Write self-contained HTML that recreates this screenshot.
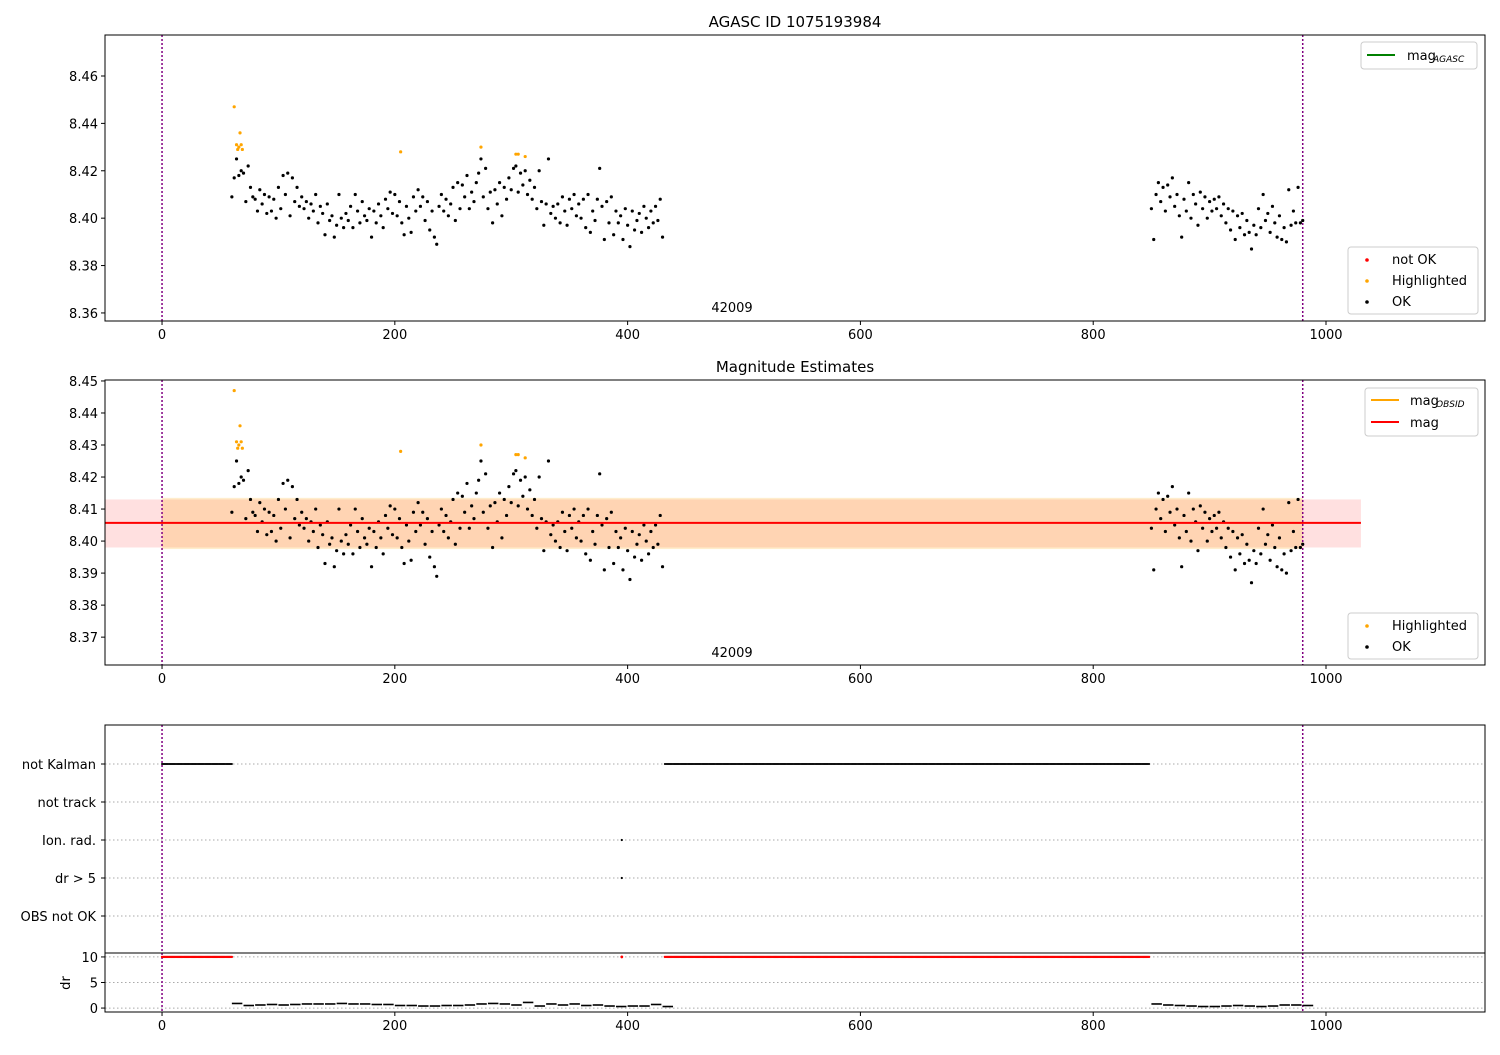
<!DOCTYPE html>
<html><head><meta charset="utf-8">
<style>
body{margin:0;background:#fff;font-family:"Liberation Sans","DejaVu Sans",sans-serif;}
svg text{font-family:"DejaVu Sans","Liberation Sans",sans-serif;}
</style></head>
<body>
<svg id="c" width="1500" height="1050" xmlns="http://www.w3.org/2000/svg"></svg>
<script>
// ---- data ----
const okX1Start = 60, okStep = 2;
const okY1 = [8.409,8.417,8.425,8.418,8.420,8.419,8.407,8.422,8.413,8.409,
8.408,8.403,8.412,8.406,8.410,8.402,8.409,8.403,8.408,8.400,
8.413,8.404,8.418,8.410,8.419,8.401,8.417,8.407,8.413,8.405,
8.409,8.404,8.407,8.400,8.406,8.403,8.410,8.398,8.405,8.402,
8.393,8.406,8.399,8.401,8.392,8.397,8.410,8.400,8.396,8.402,
8.399,8.405,8.396,8.410,8.403,8.398,8.407,8.401,8.399,8.404,
8.392,8.403,8.398,8.406,8.401,8.396,8.408,8.404,8.411,8.402,
8.410,8.401,8.407,8.398,8.393,8.405,8.400,8.394,8.409,8.403,
8.412,8.405,8.409,8.399,8.407,8.395,8.403,8.392,8.389,8.405,
8.410,8.403,8.408,8.401,8.406,8.413,8.399,8.415,8.404,8.414,
8.409,8.418,8.404,8.411,8.407,8.415,8.419,8.425,8.409,8.421,
8.404,8.411,8.398,8.412,8.406,8.415,8.401,8.413,8.408,8.417,
8.412,8.421,8.422,8.411,8.419,8.414,8.420,8.410,8.416,8.408,
8.413,8.404,8.420,8.407,8.397,8.406,8.425,8.402,8.405,8.400,
8.406,8.398,8.409,8.403,8.397,8.408,8.404,8.410,8.401,8.406,
8.400,8.408,8.396,8.410,8.394,8.403,8.399,8.408,8.421,8.405,
8.391,8.407,8.398,8.409,8.393,8.403,8.398,8.401,8.391,8.404,
8.397,8.388,8.403,8.395,8.399,8.402,8.394,8.405,8.400,8.396,
8.403,8.398,8.405,8.399,8.408,8.392];
const okX2Start = 850;
const okY2 = [8.404,8.391,8.410,8.415,8.407,8.413,8.403,8.414,8.409,8.417,
8.405,8.410,8.401,8.392,8.408,8.403,8.415,8.400,8.410,8.406,
8.397,8.411,8.404,8.409,8.400,8.407,8.403,8.408,8.404,8.409,
8.401,8.406,8.398,8.404,8.395,8.403,8.391,8.401,8.396,8.402,
8.393,8.399,8.394,8.387,8.397,8.393,8.404,8.396,8.410,8.399,
8.402,8.394,8.405,8.398,8.392,8.401,8.391,8.396,8.390,8.412,
8.397,8.403,8.398,8.413,8.398,8.399];
const hlX = [62,64,65,66,67,68,69,205,274,304,306,312];
const hlY = [8.447,8.431,8.429,8.430,8.436,8.431,8.429,8.428,8.430,8.427,8.427,8.426];
const magMean = 8.4057, magLo = 8.398, magHi = 8.413, magObsLo = 8.3975, magObsHi = 8.4135;
const bandX0 = -49, bandX1 = 1030, obsBandX0 = 0, obsBandX1 = 980;
const vlines = [0, 980];
const kalmanRanges = [[0,60],[432,848]];
const flagCats = ["not Kalman","not track","Ion. rad.","dr > 5","OBS not OK"];
const ionX = [395], dr5X = [395];
const drStep = 10;
const drX1Start = 60;
const drY1 = [0.9,0.5,0.6,0.7,0.6,0.7,0.8,0.8,0.8,0.9,0.8,0.8,0.7,0.7,0.5,0.5,0.4,0.4,0.5,0.5,0.6,0.8,0.9,0.8,0.6,1.1,0.4,0.8,0.6,0.8,0.5,0.6,0.4,0.3,0.4,0.4,0.7,0.3];
const drX2Start = 850;
const drY2 = [0.8,0.6,0.5,0.4,0.3,0.3,0.4,0.5,0.4,0.3,0.4,0.6,0.6,0.5];
const xTicks = [0,200,400,600,800,1000];
const y1Ticks = [8.36,8.38,8.40,8.42,8.44,8.46];
const y2Ticks = [8.37,8.38,8.39,8.40,8.41,8.42,8.43,8.44,8.45];
const drTicks = [0,5,10];

// ---- drawing ----
const svg = document.getElementById('c');
const NS = 'http://www.w3.org/2000/svg';
function el(t, a, p){const e=document.createElementNS(NS,t);for(const k in a)e.setAttribute(k,a[k]);(p||svg).appendChild(e);return e;}
const L=105,R=1485,XMIN=-49,XMAX=1136.6;
const X = v => L+(v-XMIN)/(XMAX-XMIN)*(R-L);
function mkY(top,bot,min,max){return v=>bot-(v-min)/(max-min)*(bot-top);}
const P1={top:35,bot:321}, P2={top:380,bot:665}, P3={top:725,bot:953}, P4={top:953,bot:1012};
const Y1=mkY(P1.top,P1.bot,8.3566,8.4773);
const Y2=mkY(P2.top,P2.bot,8.3613,8.4503);
const Y3=i=>764+i*38;
const Y4=mkY(P4.top,P4.bot,-0.77,10.77);

function text(x,y,s,opts,name){const t=el('text',Object.assign({x:x,y:y,'font-size':13,fill:'#000'},opts||{}));t.textContent=s;

return t;}
function xAxis(bot,name){const g=el('g',{});


xTicks.forEach(v=>{el('line',{x1:X(v),x2:X(v),y1:bot,y2:bot+4,stroke:'#000'},g);g.appendChild(text(X(v),bot+18,String(v),{'text-anchor':'middle'},'x-tick-label'));});}
function yTicks(ticks,Y,fmt,name){const g=el('g',{});


ticks.forEach(v=>{el('line',{x1:L-4,x2:L,y1:Y(v),y2:Y(v),stroke:'#000'},g);const t=text(L-7,Y(v)+5,fmt(v),{'text-anchor':'end'},'y-tick-label');g.appendChild(t);});}
function frame(p,name){const r=el('rect',{x:L,y:p.top,width:R-L,height:p.bot-p.top,fill:'none',stroke:'#000','stroke-width':1});

}
function vl(p){vlines.forEach(v=>{const l=el('line',{x1:X(v),x2:X(v),y1:p.top,y2:p.bot,stroke:'#800080','stroke-width':1.5,'stroke-dasharray':'2,2'});

});}
function dots(Y,name){const g=el('g',{});


okY1.forEach((v,i)=>el('circle',{cx:X(okX1Start+i*okStep),cy:Y(v),r:1.6,fill:'#000'},g));
okY2.forEach((v,i)=>el('circle',{cx:X(okX2Start+i*okStep),cy:Y(v),r:1.6,fill:'#000'},g));
const h=el('g',{});


hlX.forEach((x,i)=>el('circle',{cx:X(x),cy:Y(hlY[i]),r:1.6,fill:'orange'},h));}
function legendBox(x,y,w,h,name){const r=el('rect',{x:x,y:y,width:w,height:h,rx:3,fill:'#fff','fill-opacity':0.8,stroke:'#ccc'});

}

// titles
text(795,27,'AGASC ID 1075193984',{'text-anchor':'middle','font-size':15},'chart-title');
text(795,372,'Magnitude Estimates',{'text-anchor':'middle','font-size':15},'panel2-title');

// Panel 1
vl(P1); dots(Y1,'ok-points-panel1');
frame(P1,'panel1-axes'); xAxis(P1.bot,'panel1-x-axis'); yTicks(y1Ticks,Y1,v=>v.toFixed(2),'panel1-y-axis');
text(732,312,'42009',{'text-anchor':'middle'},'obsid-label');
legendBox(1361,42,116,27,'legend-agasc');
el('line',{x1:1367,x2:1395,y1:55,y2:55,stroke:'green','stroke-width':2});
text(1407,60,'mag',{},'legend-entry-mag-agasc');text(1433,62,'AGASC',{'font-size':9,'font-style':'italic'},'legend-subscript');
legendBox(1348,247,130,67,'legend-status');
el('circle',{cx:1367,cy:260,r:1.8,fill:'red'});text(1392,264,'not OK',{},'legend-entry-not-ok');
el('circle',{cx:1367,cy:281,r:1.8,fill:'orange'});text(1392,285,'Highlighted',{},'legend-entry-highlighted');
el('circle',{cx:1367,cy:302,r:1.8,fill:'#000'});text(1392,306,'OK',{},'legend-entry-ok');

// Panel 2
const b2=el('rect',{x:X(bandX0),y:Y2(magHi),width:X(bandX1)-X(bandX0),height:Y2(magLo)-Y2(magHi),fill:'#ff0000','fill-opacity':0.12});


const b1=el('rect',{x:X(obsBandX0),y:Y2(magObsHi),width:X(obsBandX1)-X(obsBandX0),height:Y2(magObsLo)-Y2(magObsHi),fill:'orange','fill-opacity':0.2});


vl(P2); dots(Y2,'ok-points-panel2');
const ml=el('line',{x1:X(bandX0),x2:X(bandX1),y1:Y2(magMean),y2:Y2(magMean),stroke:'red','stroke-width':2});


frame(P2,'panel2-axes'); xAxis(P2.bot,'panel2-x-axis'); yTicks(y2Ticks,Y2,v=>v.toFixed(2),'panel2-y-axis');
text(732,657,'42009',{'text-anchor':'middle'},'obsid-label-2');
legendBox(1365,388,113,48,'legend-mag');
el('line',{x1:1371,x2:1399,y1:400,y2:400,stroke:'orange','stroke-width':2});
text(1410,405,'mag',{},'legend-entry-mag-obsid');text(1436,407,'OBSID',{'font-size':9,'font-style':'italic'},'legend-subscript');
el('line',{x1:1371,x2:1399,y1:422,y2:422,stroke:'red','stroke-width':2});
text(1410,427,'mag',{},'legend-entry-mag');
legendBox(1348,613,130,46,'legend-status-2');
el('circle',{cx:1367,cy:626,r:1.8,fill:'orange'});text(1392,630,'Highlighted',{},'legend-entry-highlighted');
el('circle',{cx:1367,cy:647,r:1.8,fill:'#000'});text(1392,651,'OK',{},'legend-entry-ok');

// Panel 3 flags
flagCats.forEach((c,i)=>{el('line',{x1:L,x2:R,y1:Y3(i),y2:Y3(i),stroke:'#aaa','stroke-dasharray':'1.5,2.5'});
el('line',{x1:L-4,x2:L,y1:Y3(i),y2:Y3(i),stroke:'#000'});
text(L-9,Y3(i)+5,c,{'text-anchor':'end'},'flag-category-label');});
vl(P3);
const kg=el('g',{});


kalmanRanges.forEach(r=>{for(let x=r[0];x<=r[1];x++)el('circle',{cx:X(x),cy:Y3(0),r:1,fill:'#000'},kg);});
ionX.forEach(x=>el('circle',{cx:X(x),cy:Y3(2),r:1.1,fill:'#000'}));
dr5X.forEach(x=>el('circle',{cx:X(x),cy:Y3(3),r:1.1,fill:'#000'}));
frame(P3,'flags-axes');

// Panel 4 dr
[10,5,0].forEach(v=>el('line',{x1:L,x2:R,y1:Y4(v),y2:Y4(v),stroke:'#aaa','stroke-dasharray':'1.5,2.5'}));
vl(P4);
const rg=el('g',{});


kalmanRanges.forEach(r=>{for(let x=r[0];x<=r[1];x++)el('circle',{cx:X(x),cy:Y4(10),r:1.2,fill:'red'},rg);});
ionX.forEach(x=>el('circle',{cx:X(x),cy:Y4(10),r:1.4,fill:'red'},rg));
const dg=el('g',{});


drY1.forEach((v,i)=>{const x=drX1Start+i*drStep;el('line',{x1:X(x),x2:X(x+drStep-1),y1:Y4(v),y2:Y4(v),stroke:'#000','stroke-width':1.6},dg);});
drY2.forEach((v,i)=>{const x=drX2Start+i*drStep;el('line',{x1:X(x),x2:X(x+drStep-1),y1:Y4(v),y2:Y4(v),stroke:'#000','stroke-width':1.6},dg);});
frame(P4,'dr-axes'); xAxis(P4.bot,'dr-x-axis'); yTicks(drTicks,Y4,v=>String(v),'dr-y-axis');
text(70,983,'dr',{'text-anchor':'middle',transform:'rotate(-90 70 983)'},'dr-y-axis-title');
</script>
</body></html>
